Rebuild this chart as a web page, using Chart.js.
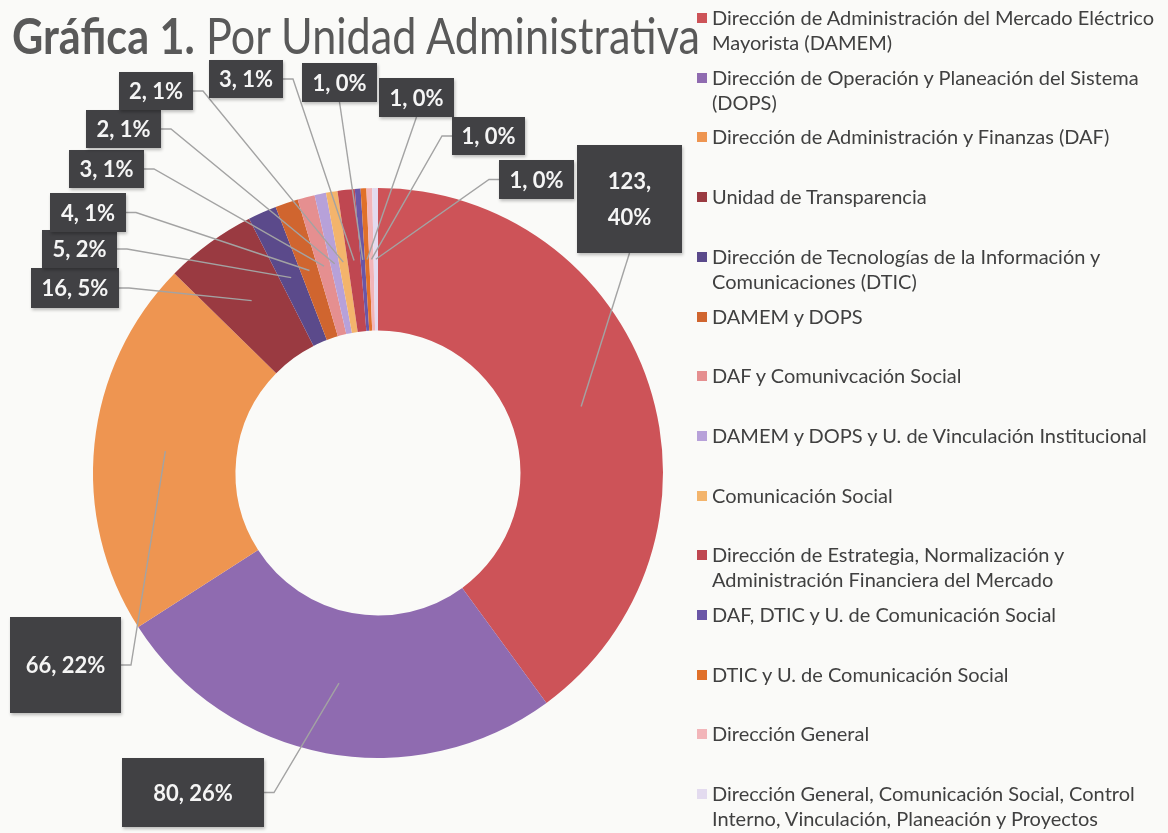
<!DOCTYPE html>
<html lang="es">
<head>
<meta charset="utf-8">
<title>Gráfica 1. Por Unidad Administrativa</title>
<script src="https://cdn.jsdelivr.net/npm/chart.js@4.4.1/dist/chart.umd.min.js"></script>
<style>
  html, body { margin: 0; padding: 0; background: #fafaf8; }
  #wrap { position: relative; width: 1168px; height: 833px; overflow: hidden; }
  #chart { position: absolute; left: 0; top: 0; }
  #title {
    position: absolute; left: 12px; top: 11px;
    font-family: Lato, "Open Sans", sans-serif; font-size: 50px; line-height: 48px;
    color: #595959; white-space: nowrap; transform-origin: 0 0;
  }
  #title b { font-weight: 700; }
  #legend { position: absolute; left: 697px; top: 5px; width: 471px; }
  .lg-item { position: absolute; left: 0; }
  .lg-box { position: absolute; left: 0; top: 8px; width: 10px; height: 10px; }
  .lg-text {
    position: absolute; left: 15px; top: 0; white-space: nowrap;
    font-family: Lato, "Open Sans", sans-serif; font-size: 20px; line-height: 25px;
    color: #404040;
  }
</style>
</head>
<body>
<div id="wrap">
  <canvas id="chart" width="1168" height="833"></canvas>
  <div id="title"><b>Gráfica 1.</b> Por Unidad Administrativa</div>
  <div id="legend"></div>
</div>
<script>
(function () {
  "use strict";

  // Datos
  const categories = [
    ["Dirección de Administración del Mercado Eléctrico", "Mayorista (DAMEM)"],
    ["Dirección de Operación y Planeación del Sistema", "(DOPS)"],
    ["Dirección de Administración y Finanzas (DAF)"],
    ["Unidad de Transparencia"],
    ["Dirección de Tecnologías de la Información y", "Comunicaciones (DTIC)"],
    ["DAMEM y DOPS"],
    ["DAF y Comunivcación Social"],
    ["DAMEM y DOPS y U. de Vinculación Institucional"],
    ["Comunicación Social"],
    ["Dirección de Estrategia, Normalización y", "Administración Financiera del Mercado"],
    ["DAF, DTIC y U. de Comunicación Social"],
    ["DTIC y U. de Comunicación Social"],
    ["Dirección General"],
    ["Dirección General, Comunicación Social, Control", "Interno, Vinculación, Planeación y Proyectos"],
  ];
  const values = [123, 80, 66, 16, 5, 4, 3, 2, 2, 3, 1, 1, 1, 1];
  const percents = [40, 26, 22, 5, 2, 1, 1, 1, 1, 1, 0, 0, 0, 0];

  const colors = [
    "#cd5358", "#8f6bb0", "#ee9551", "#9a3a41", "#5b4a8b", "#d0652f", "#e58f90",
    "#b7a1d9", "#f3b46c", "#bf4751", "#6a56a6", "#e0702a", "#f2b5b9", "#e3dbef",
  ];

  // Cajas de etiqueta: [x, y, ancho, alto, lado de la guía, dos líneas]
  const LABEL_BOXES = [
    [577, 145, 105, 108, "b", true],
    [122, 758, 142, 69, "r", false],
    [10, 617, 111, 96, "r", false],
    [31, 268, 88, 40, "r", false],
    [42, 230, 75, 38, "r", false],
    [50, 193, 76, 39, "r", false],
    [69, 150, 75, 38, "r", false],
    [86, 110, 75, 38, "r", false],
    [119, 72, 74, 38, "r", false],
    [209, 60, 74, 38, "r", false],
    [302, 63, 75, 39, "b", false],
    [379, 78, 75, 39, "b", false],
    [452, 117, 73, 38, "l", false],
    [499, 160, 75, 39, "l", false],
  ];

  const LEGEND_STEP = 59.7;

  function renderLegend() {
    const el = document.getElementById("legend");
    el.innerHTML = categories
      .map(
        (lines, i) => `
        <div class="lg-item" style="top:${(i * LEGEND_STEP).toFixed(1)}px">
          <span class="lg-box" style="background:${colors[i]}"></span>
          <div class="lg-text">${lines.join("<br>")}</div>
        </div>`,
      )
      .join("");
  }

  function fitTitle() {
    const t = document.getElementById("title");
    const w = t.getBoundingClientRect().width;
    t.style.transform = `scaleX(${(688 / w).toFixed(4)})`;
  }

  const calloutLabels = {
    id: "calloutLabels",
    afterDatasetsDraw(chart) {
      const ctx = chart.ctx;
      const arcs = chart.getDatasetMeta(0).data;
      ctx.save();

      // guías
      ctx.strokeStyle = "#a3a3a3";
      ctx.lineWidth = 1.4;
      arcs.forEach((arc, i) => {
        const [x, y, w, h, side] = LABEL_BOXES[i];
        const p = arc.tooltipPosition();
        let sx, sy, ex, ey;
        if (side === "r") { sx = x + w; sy = y + h / 2; ex = sx + 10; ey = sy; }
        else if (side === "l") { sx = x; sy = y + h / 2; ex = sx - 10; ey = sy; }
        else { sx = x + w / 2; sy = y + h; ex = sx; ey = sy; }
        ctx.beginPath();
        ctx.moveTo(sx, sy);
        ctx.lineTo(ex, ey);
        ctx.lineTo(p.x, p.y);
        ctx.stroke();
      });

      // cajas
      arcs.forEach((arc, i) => {
        const [x, y, w, h, , wrap] = LABEL_BOXES[i];
        ctx.shadowColor = "rgba(0,0,0,0.25)";
        ctx.shadowBlur = 3;
        ctx.shadowOffsetX = 1;
        ctx.shadowOffsetY = 2;
        ctx.fillStyle = "#414144";
        ctx.fillRect(x, y, w, h);
        ctx.shadowColor = "transparent";

        ctx.fillStyle = "#f5f5f5";
        ctx.font = "bold 22px Lato, 'Open Sans', sans-serif";
        ctx.textAlign = "center";
        ctx.textBaseline = "middle";
        const cx = x + w / 2;
        const cy = y + h / 2;
        if (wrap) {
          ctx.fillText(values[i] + ",", cx, cy - 17);
          ctx.fillText(percents[i] + "%", cx, cy + 19);
        } else {
          ctx.fillText(`${values[i]}, ${percents[i]}%`, cx, cy + 1);
        }
      });
      ctx.restore();
    },
  };

  function renderChart() {
    new Chart(document.getElementById("chart").getContext("2d"), {
      type: "doughnut",
      data: {
        labels: categories,
        datasets: [
          {
            data: values,
            backgroundColor: colors,
            borderWidth: 0,
          },
        ],
      },
      options: {
        responsive: false,
        animation: false,
        cutout: "50%",
        layout: { padding: { left: 93, right: 505, top: 187, bottom: 74 } },
        plugins: {
          legend: { display: false },
          tooltip: { enabled: false },
        },
      },
      plugins: [calloutLabels],
    });
  }

  renderLegend();
  Promise.all([
    document.fonts.load("bold 22px Lato"),
    document.fonts.load("50px Lato"),
  ])
    .catch(() => {})
    .then(() => {
      fitTitle();
      renderChart();
    });
})();
</script>
</body>
</html>
